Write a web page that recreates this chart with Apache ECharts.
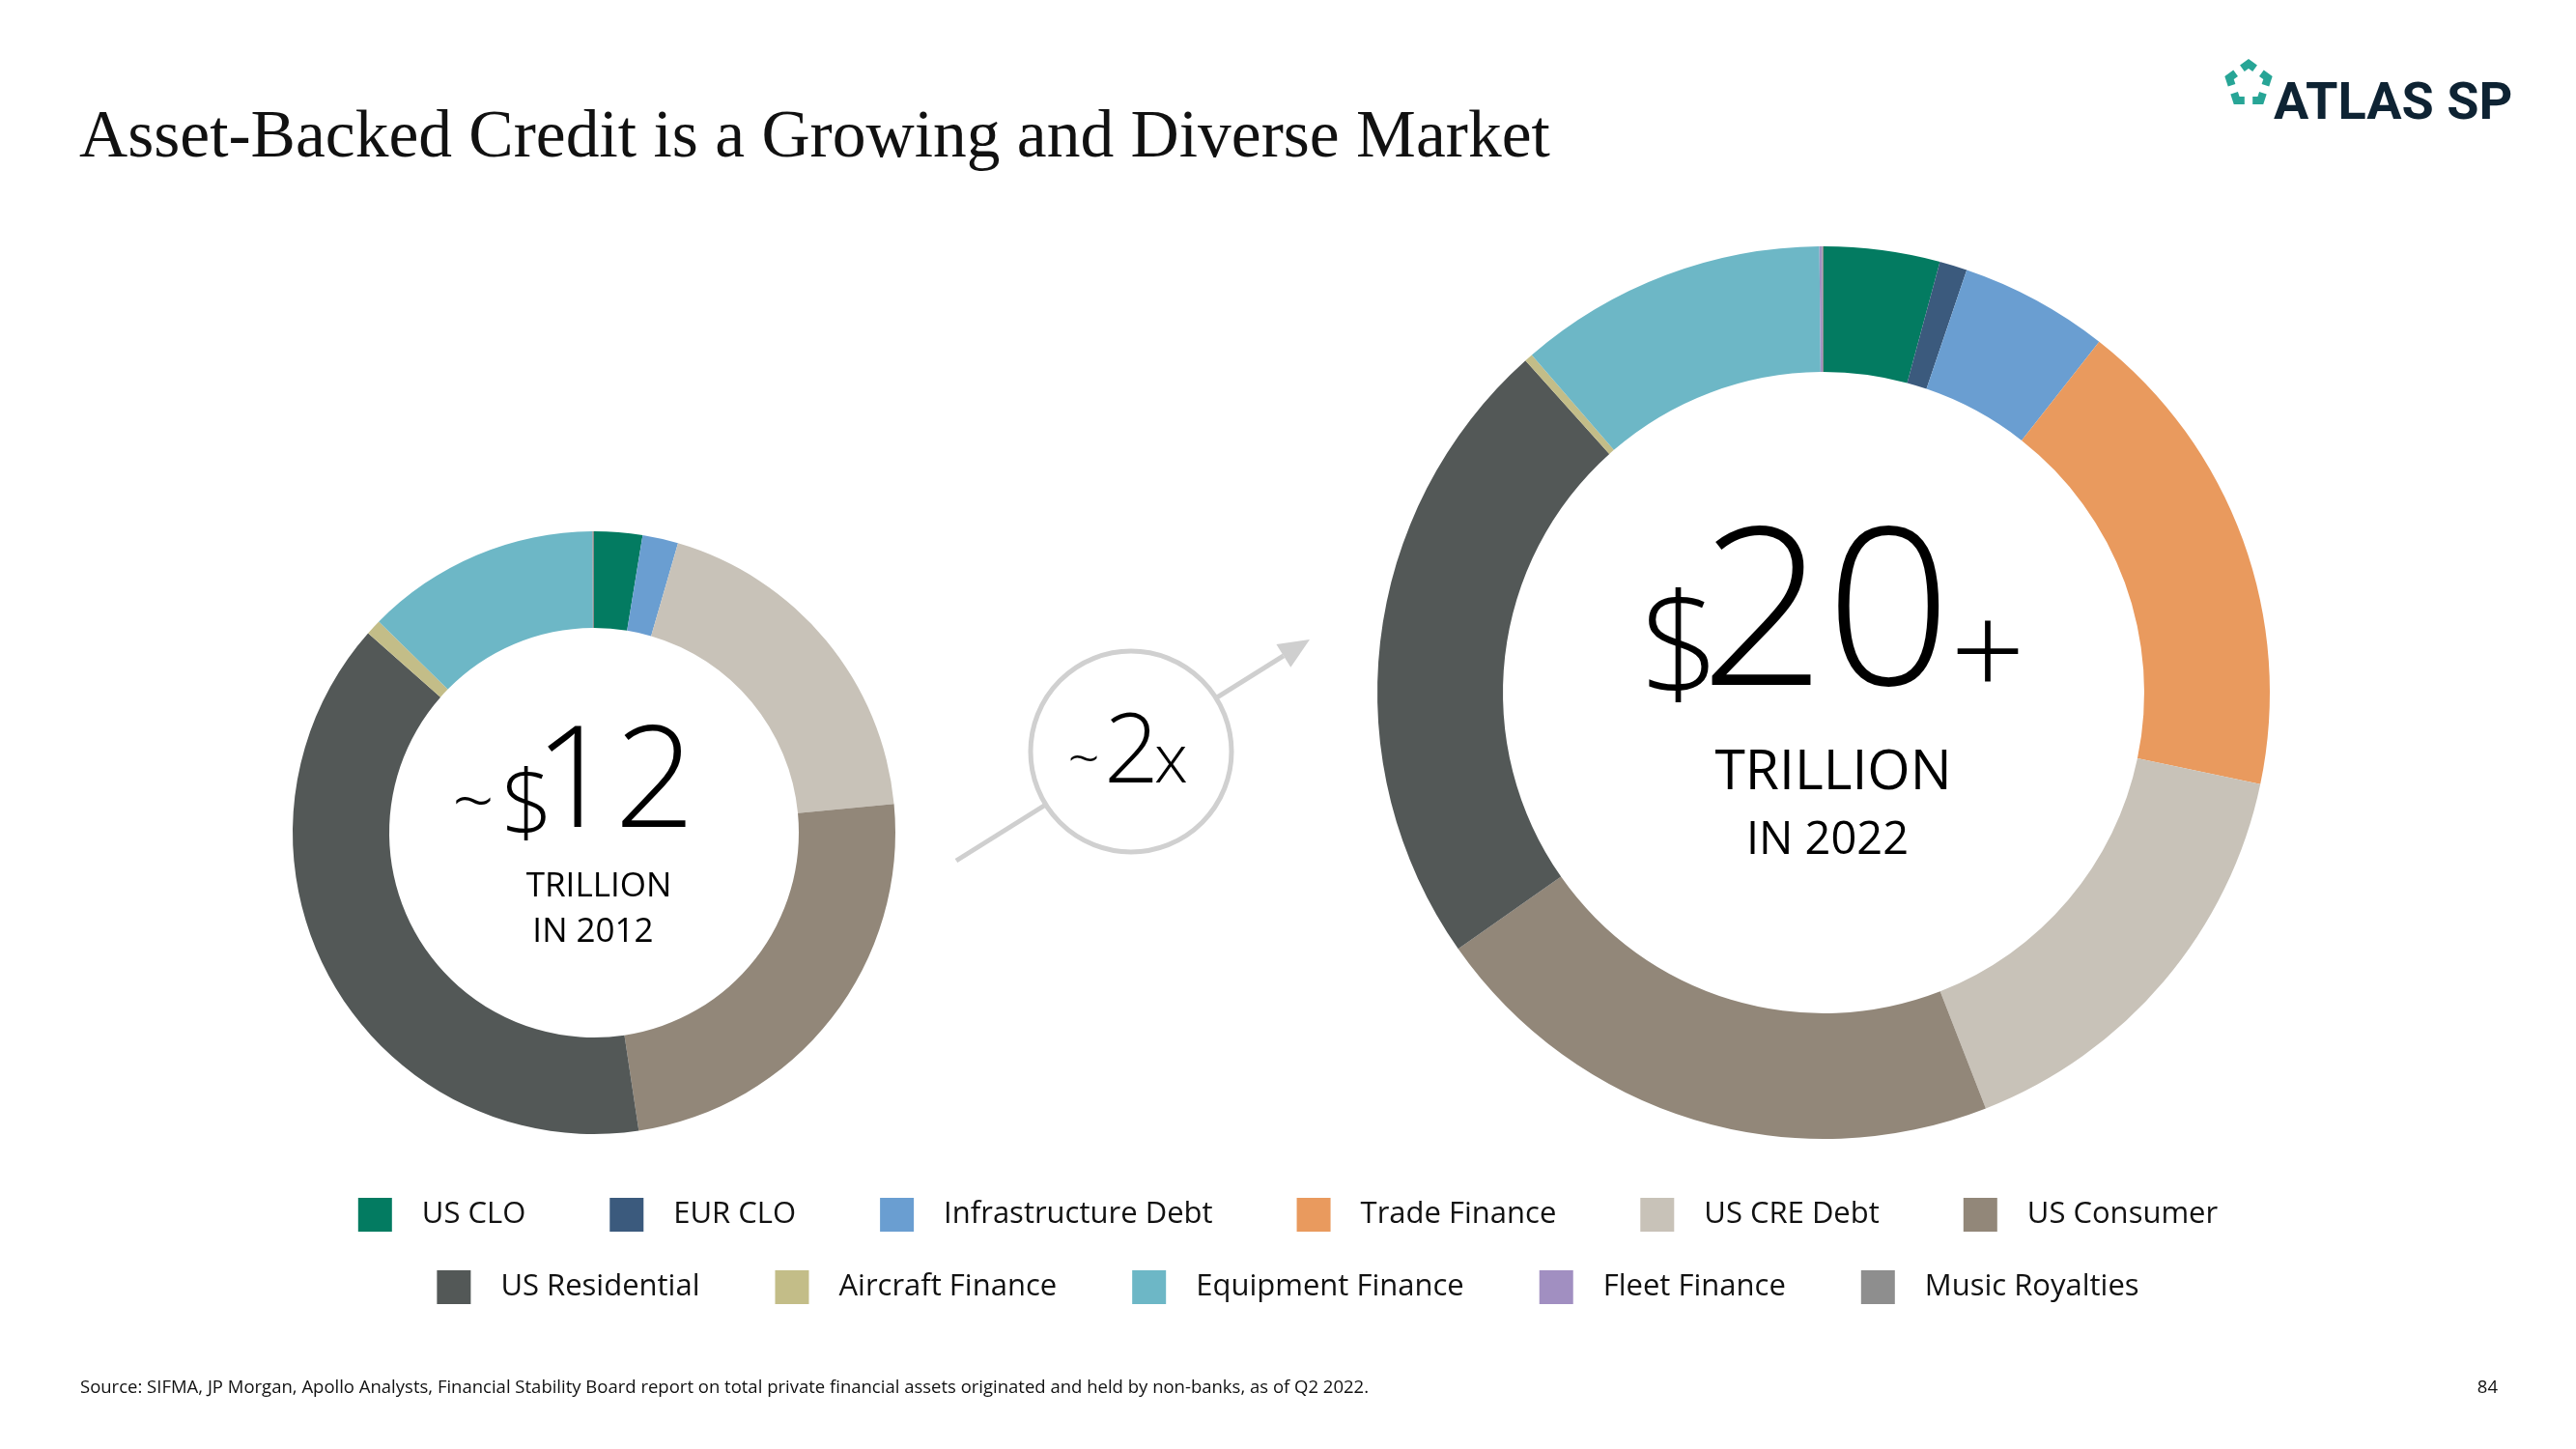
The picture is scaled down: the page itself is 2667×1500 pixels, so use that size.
<!DOCTYPE html>
<html><head><meta charset="utf-8">
<script src="https://cdn.jsdelivr.net/npm/echarts@6/dist/echarts.min.js"></script>
<style>html,body{margin:0;padding:0;background:#fff}#c{width:2667px;height:1500px}</style>
</head><body><div id="c"></div>
<script>
// ---- data ----
const categories = ['US CLO','EUR CLO','Infrastructure Debt','Trade Finance','US CRE Debt','US Consumer','US Residential','Aircraft Finance','Equipment Finance','Fleet Finance','Music Royalties'];
const colors = ['#037B61','#3B5A7D','#6A9ED1','#E99A5E','#C8C2B8','#928779','#535857','#C3BD88','#6DB7C6','#A18FC1','#8E8E8E'];
// $ trillions
const values2012 = [0.31, 0, 0.23, 0, 2.28, 2.90, 4.67, 0.10, 1.51, 0, 0.01];
const values2022 = [0.84, 0.20, 1.08, 3.54, 3.16, 4.24, 4.62, 0.06, 2.24, 0.02, 0.01];
const legendRow1 = categories.slice(0, 6);
const legendRow2 = categories.slice(6);
const titleText = 'Asset-Backed Credit is a Growing and Diverse Market';
const sourceText = 'Source: SIFMA, JP Morgan, Apollo Analysts, Financial Stability Board report on total private financial assets originated and held by non-banks, as of Q2 2022.';
const pageNumber = '84';
const logoText = 'ATLAS SP';

const SANS = "'Open Sans', 'Noto Sans', sans-serif";
const SERIF = "'Liberation Serif', 'DejaVu Serif', serif";

function pieData(vals) {
  return categories.map((n, i) => ({ name: n, value: vals[i], itemStyle: { color: colors[i] } }));
}

function txt(text, x, y, size, opts) {
  opts = opts || {};
  return {
    type: 'text', silent: true, z: 10,
    style: {
      text: text, x: x, y: y,
      fontSize: size, fontFamily: opts.family || SANS, fontWeight: opts.weight || 'normal',
      fill: opts.color || '#000', align: opts.align || 'left', verticalAlign: 'middle'
    }
  };
}

// logo pentagon pieces
function pentagonPieces(cx, cy, R) {
  const v = [];
  for (let k = 0; k < 5; k++) {
    const a = (-90 + 72 * k) * Math.PI / 180;
    v.push([cx + R * Math.cos(a), cy + R * Math.sin(a)]);
  }
  const out = [];
  for (let k = 0; k < 5; k++) {
    const p = v[(k + 4) % 5], c = v[k], n = v[(k + 1) % 5];
    const f = 0.33;
    out.push({
      type: 'polyline', silent: true,
      shape: { points: [[c[0] + f * (p[0] - c[0]), c[1] + f * (p[1] - c[1])], c, [c[0] + f * (n[0] - c[0]), c[1] + f * (n[1] - c[1])]] },
      style: { stroke: '#27A596', lineWidth: 8, fill: null, lineJoin: 'miter' }
    });
  }
  return out;
}

// arrow geometry
const arrowStart = [990, 891], arrowTip = [1356, 662];
const ad = [arrowTip[0] - arrowStart[0], arrowTip[1] - arrowStart[1]];
const al = Math.hypot(ad[0], ad[1]);
const u = [ad[0] / al, ad[1] / al], nv = [-u[1], u[0]];
const headLen = 32, headW = 14;
const base = [arrowTip[0] - headLen * u[0], arrowTip[1] - headLen * u[1]];

const chart = echarts.init(document.getElementById('c'), null, { renderer: 'canvas' });

const commonPie = {
  type: 'pie', silent: true, clockwise: true, startAngle: 90, minAngle: 0,
  avoidLabelOverlap: false, label: { show: false }, labelLine: { show: false },
  emphasis: { disabled: true }, itemStyle: { borderWidth: 0 }
};

function legendCfg(top, data, gap) {
  return {
    top: top, data: data, left: 'center', orient: 'horizontal', icon: 'rect',
    itemWidth: 35, itemHeight: 35, itemGap: gap, selectedMode: false,
    textStyle: { fontSize: 31, fontFamily: SANS, color: '#111', padding: [0, 0, 0, 26] }
  };
}

chart.setOption({
  backgroundColor: '#ffffff',
  animation: false,
  color: colors,
  legend: [legendCfg(1235, legendRow1, 87), legendCfg(1310, legendRow2, 78)],
  series: [
    Object.assign({ name: '2012', center: [615, 862], radius: [212, 312], data: pieData(values2012) }, commonPie),
    Object.assign({ name: '2022', center: [1888, 717], radius: [332, 462], data: pieData(values2022) }, commonPie)
  ],
  graphic: [].concat(
    [
      txt(titleText, 82, 144, 69.5, { family: SERIF, color: '#111' }),
      txt(logoText, 2354, 109, 54, { family: "Roboto, 'Liberation Sans', sans-serif", weight: 'bold', color: '#0E2333' }),
      txt(sourceText, 83, 1437, 18.5, { color: '#111' }),
      txt(pageNumber, 2586, 1437, 18.5, { color: '#111', align: 'right' }),
      // left center
      txt('~', 490, 834, 76, { weight: 300, align: 'center' }),
      txt('$', 519, 837, 94, { weight: 300 }),
      txt('12', 553, 814, 146, { weight: 300 }),
      txt('TRILLION', 620, 918, 35, { align: 'center' }),
      txt('IN 2012', 614, 965, 35, { align: 'center' }),
      // right center
      txt('$', 1698, 678, 145, { weight: 300 }),
      txt('20', 1760, 644, 228, { weight: 300 }),
      txt('+', 2058, 684, 135, { weight: 300, align: 'center' }),
      txt('TRILLION', 1898, 801, 57, { align: 'center' }),
      txt('IN 2022', 1892, 871, 47, { align: 'center' }),
      // arrow
      { type: 'line', silent: true, z: 5, shape: { x1: arrowStart[0], y1: arrowStart[1], x2: base[0], y2: base[1] }, style: { stroke: '#CFCFCF', lineWidth: 5 } },
      { type: 'polygon', silent: true, z: 5, shape: { points: [arrowTip, [base[0] + headW * nv[0], base[1] + headW * nv[1]], [base[0] - headW * nv[0], base[1] - headW * nv[1]]] }, style: { fill: '#CFCFCF' } },
      { type: 'circle', silent: true, z: 6, shape: { cx: 1171, cy: 778, r: 104 }, style: { fill: '#fff', stroke: '#D0D0D0', lineWidth: 5 } },
      txt('~', 1122, 789, 58, { weight: 300, align: 'center' }),
      txt('2', 1143, 782, 100, { weight: 300 }),
      txt('x', 1195, 790, 70, { weight: 300 })
    ],
    pentagonPieces(2328, 87, 21)
  )
});
</script></body></html>
